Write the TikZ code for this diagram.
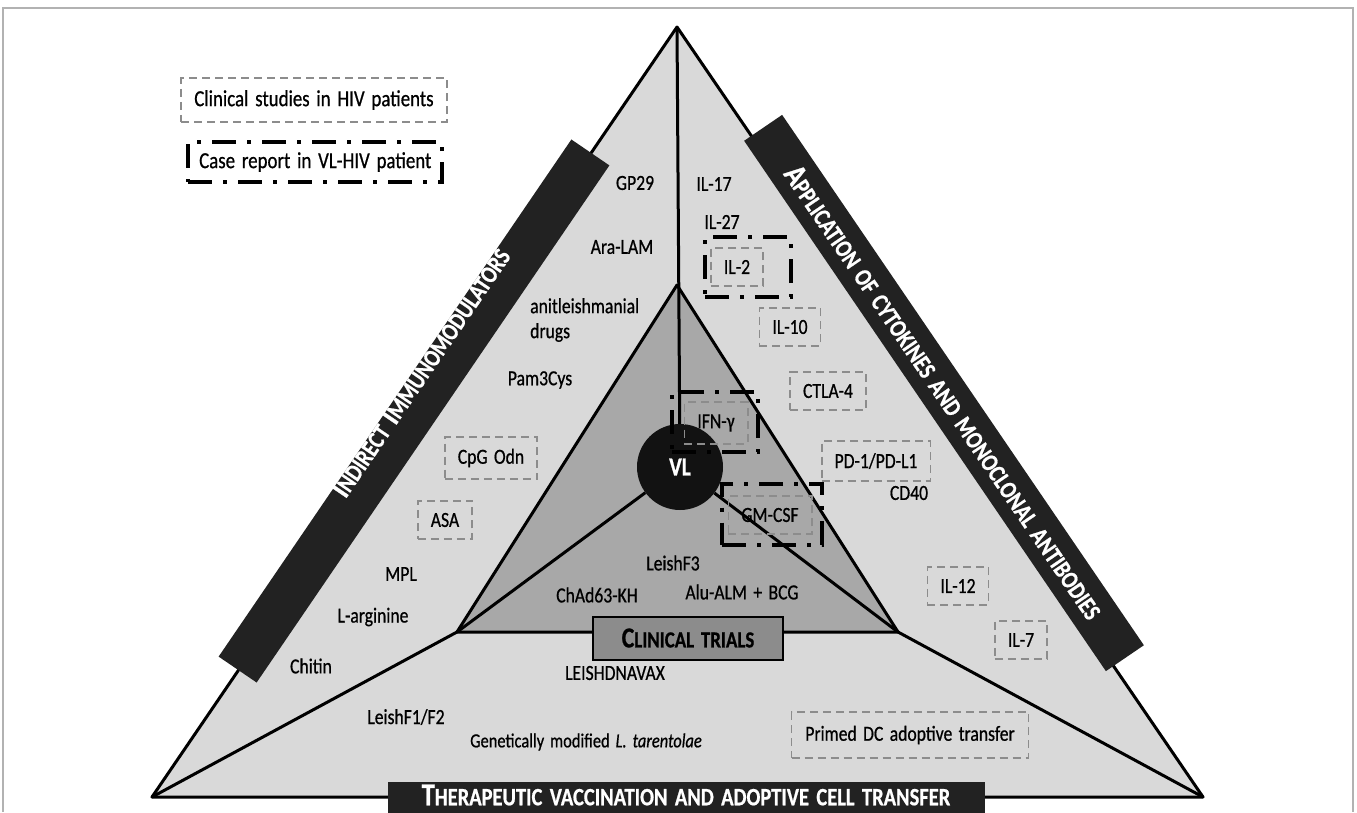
\documentclass[tikz,border=0pt]{standalone}
\usepackage{fontspec}
\setmainfont{Carlito}[FakeStretch=0.82, WordSpace=1.6, FakeBold=0.7]
\usetikzlibrary{positioning}

\definecolor{outerGray}{RGB}{217, 217, 217}
\definecolor{innerGray}{RGB}{168, 168, 168}
\definecolor{trialGray}{RGB}{140, 140, 140}
\definecolor{barBlack}{RGB}{34, 34, 34}
\definecolor{hivGray}{RGB}{140, 140, 140}

\newcommand{\scbig}[1]{{\fontsize{32}{34}\selectfont #1}}
\newcommand{\scsmall}[1]{{\fontsize{25}{27}\selectfont #1}}

\tikzset{
  edge/.style = {line width = 3pt, line join = round},
  item/.style = {font = \fontsize{21.5}{25}\selectfont, inner sep = 0pt},
  hivbox/.style = {item, draw = hivGray, line width = 1.8pt,
    dash pattern = on 8pt off 5pt, inner xsep = 13pt, inner ysep = 12pt},
  casebox/.style = {draw = black, line width = 4pt,
    dash pattern = on 24pt off 11pt on 4pt off 11pt},
  sidebar/.style = {fill = barBlack, minimum width = 626pt, minimum height = 46pt},
  bartext/.style = {text = white, font = \bfseries, inner sep = 0pt}
}

\begin{document}
\begin{tikzpicture}[x = 1pt, y = -1pt]
  \useasboundingbox (0, 0) rectangle (1357, 812);
  \draw[gray!60, line width = 1.2pt] (3, 812) -- (3, 8) -- (1353, 8) -- (1353, 812);

  % triangles
  \coordinate (apex) at (677, 27);
  \coordinate (bl) at (152, 797);
  \coordinate (br) at (1203, 797);
  \coordinate (itop) at (677, 285);
  \coordinate (il) at (457, 632);
  \coordinate (ir) at (898, 632);

  \filldraw[edge, fill = outerGray] (apex) -- (br) -- (bl) -- cycle;
  \filldraw[edge, fill = innerGray] (itop) -- (ir) -- (il) -- cycle;

  \node[circle, fill = black!93, minimum size = 86pt, inner sep = 0pt,
    text = white, font = \fontsize{26}{28}\selectfont\bfseries] (vl) at (680, 467) {VL};

  \draw[edge] (apex) -- (vl);
  \draw[edge] (vl) -- (il) -- (bl);
  \draw[edge] (vl) -- (ir) -- (br);

  % legend
  \node[hivbox, minimum width = 252pt, minimum height = 41pt, font = \fontsize{23}{26}\selectfont] (legHiv) at (314, 100) {Clinical studies in HIV patients};
  \node[casebox, minimum width = 254pt, minimum height = 40pt] (legCase) at (315, 162) {};
  \node[item, anchor = west, font = \fontsize{23}{26}\selectfont] (legCaseText) at (199, 162) {Case report in VL-HIV patient};

  % indirect immunomodulators
  \node[item] (gp) at (635, 183) {GP29};
  \node[item] (aralam) at (622, 247) {Ara-LAM};
  \node[item, anchor = west, align = left] (drugs) at (530, 320) {anitleishmanial\\drugs};
  \node[item] (pam) at (540, 380) {Pam3Cys};
  \node[hivbox] (cpg) at (491, 458) {CpG Odn};
  \node[hivbox] (asa) at (445, 520) {ASA};
  \node[item] (mpl) at (401, 574) {MPL};
  \node[item] (larg) at (373, 617) {L-arginine};
  \node[item] (chitin) at (311, 666) {Chitin};

  % cytokines and antibodies
  \node[item] (il17) at (714, 184) {IL-17};
  \node[item] (il27) at (722, 222) {IL-27};
  \node[casebox, minimum width = 86pt, minimum height = 60pt] (il2case) at (748, 267) {};
  \node[hivbox] (il2) at (737, 267) {IL-2};
  \node[hivbox] (il10) at (790, 327) {IL-10};
  \node[hivbox] (ctla) at (828, 391) {CTLA-4};
  \node[hivbox] (pd) at (876, 461) {PD-1/PD-L1};
  \node[item] (cd40) at (909, 493) {CD40};
  \node[hivbox] (il12) at (958, 586) {IL-12};
  \node[hivbox] (il7) at (1021, 640) {IL-7};

  % clinical trials
  \node[casebox, minimum width = 86pt, minimum height = 60pt] (ifncase) at (715, 422) {};
  \node[hivbox] (ifn) at (716, 423) {IFN-γ};
  \node[casebox, minimum width = 100pt, minimum height = 61pt] (gmcase) at (772, 514) {};
  \node[hivbox] (gm) at (770, 515) {GM-CSF};
  \node[item] (lf3) at (673, 563) {LeishF3};
  \node[item] (chad) at (597, 595) {ChAd63-KH};
  \node[item] (alu) at (742, 592) {Alu-ALM + BCG};
  \node[draw, line width = 2pt, fill = trialGray, minimum width = 190pt, minimum height = 43pt,
    font = \bfseries] (trials) at (688, 638)
    {{\fontsize{29}{30}\selectfont C}{\fontsize{23}{25}\selectfont LINICAL TRIALS}};

  % therapeutic vaccination
  \node[item] (dnavax) at (615, 673) {LEISHDNAVAX};
  \node[item] (lf12) at (406, 717) {LeishF1/F2};
  \node[item, font = \fontsize{20}{23}\selectfont] (tarent) at (586, 742) {Genetically modified \textit{L. tarentolae}};
  \node[hivbox, minimum width = 237pt, minimum height = 46pt] (primed) at (910, 735) {Primed DC adoptive transfer};

  % side bars
  \node[sidebar, rotate = 55.7] (leftBar) at (414, 411) {};
  \node[bartext, rotate = 55.7] (leftTitle) at (420, 372)
    {\scbig{I}\scsmall{NDIRECT }\scbig{I}\scsmall{MMUNOMODULATORS}};
  \node[sidebar, rotate = -55.7, minimum width = 642pt] (rightBar) at (944, 393) {};
  \node[bartext, rotate = -55.7] (rightTitle) at (944, 392)
    {\scbig{A}\scsmall{PPLICATION OF CYTOKINES AND MONOCLONAL ANTIBODIES}};
  \node[fill = barBlack, minimum width = 597pt, minimum height = 40pt] (bottomBar) at (686, 802) {};
  \node[bartext] (bottomTitle) at (686, 795)
    {\scbig{T}\scsmall{HERAPEUTIC VACCINATION AND ADOPTIVE CELL TRANSFER}};
\end{tikzpicture}
\end{document}
